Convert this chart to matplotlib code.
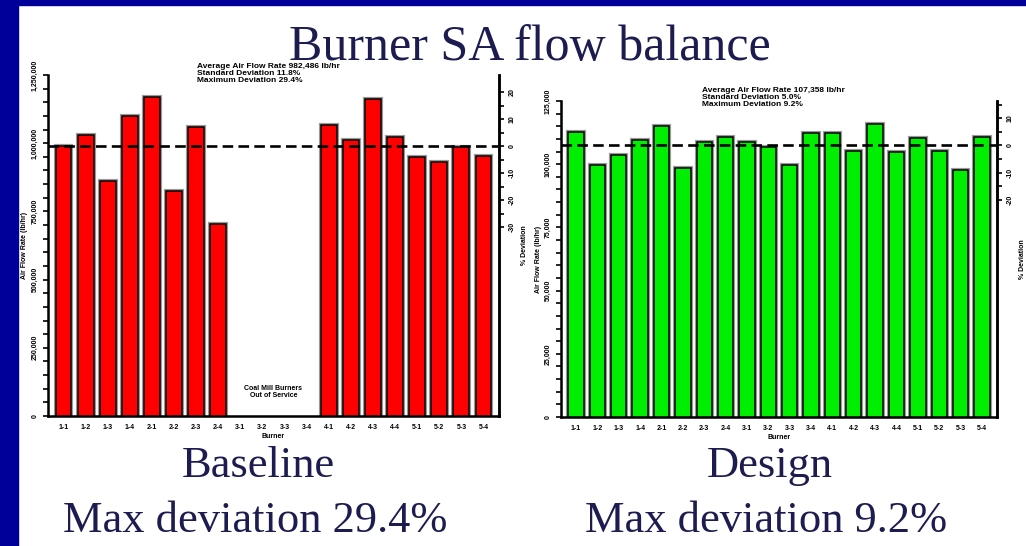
import numpy as np
import matplotlib
matplotlib.use('Agg')
import matplotlib.pyplot as plt
from matplotlib.patches import Rectangle
from matplotlib.ticker import MultipleLocator, FixedLocator, FuncFormatter
import matplotlib.transforms as mtransforms

# burner names, same for both charts
burners = ['1-1', '1-2', '1-3', '1-4', '2-1', '2-2', '2-3', '2-4',
           '3-1', '3-2', '3-3', '3-4', '4-1', '4-2', '4-3', '4-4',
           '5-1', '5-2', '5-3', '5-4']

# air flow per burner (lb/hr), None = out of service
baseline_flow = [989700, 1030000, 861000, 1100000, 1169000, 825000, 1059000, 704000,
                 None, None, None, None,
                 1067000, 1012000, 1162000, 1023000, 949000, 931000, 986000, 953000]
design_flow = [112700, 99700, 103600, 109600, 115100, 98500, 108800, 110800,
               108800, 106800, 99700, 112300, 112300, 105200, 115900, 104800,
               110400, 105200, 97700, 110800]

baseline_notes = ['Average Air Flow Rate 982,486 lb/hr',
                  'Standard Deviation 11.8%',
                  'Maximum Deviation 29.4%']
design_notes = ['Average Air Flow Rate 107,358 lb/hr',
                'Standard Deviation 5.0%',
                'Maximum Deviation 9.2%']

TXT = '#1c1c50'
SMALL = dict(fontsize=5, fontweight='bold', family='Liberation Sans')
NOTE = dict(fontsize=6, fontweight='bold', family='Liberation Sans')

fig = plt.figure(figsize=(10.26, 5.46), dpi=100)
fig.patch.set_facecolor('white')

# blue slide frame
fig.patches.append(Rectangle((0, 0), 18 / 1026, 1, transform=fig.transFigure,
                             color='#000099', zorder=0))
fig.patches.append(Rectangle((0, 1 - 5 / 546), 1, 5 / 546, transform=fig.transFigure,
                             color='#000099', zorder=0))


def draw_chart(rect, flows, color, ymax, ystep, pct_major, pct_minor, notes, note_xy):
    ax = fig.add_axes(rect)
    x = np.arange(len(burners))
    vals = [v for v in flows if v is not None]
    mean = np.mean(vals)
    xs = [i for i, v in zip(x, flows) if v is not None]
    # gray halo then black outline
    ax.bar(xs, vals, width=0.72, color=color, edgecolor='#9a9a9a', linewidth=3, zorder=2)
    ax.bar(xs, vals, width=0.72, color=color, edgecolor='black', linewidth=1.1, zorder=3)
    ax.axhline(mean, color='black', lw=1.9, ls=(0, (4, 2)), zorder=4)

    ax.set_xlim(-0.7, len(burners) - 0.3)
    ax.set_ylim(0, ymax)
    ax.set_xticks(x)
    ax.set_xticklabels(burners, **SMALL)
    ax.tick_params(axis='x', length=0, pad=6)
    ax.yaxis.set_major_locator(MultipleLocator(ystep))
    ax.yaxis.set_minor_locator(MultipleLocator(ystep / 5))
    ax.yaxis.set_major_formatter(FuncFormatter(lambda v, p: f'{int(v):,}'))
    ax.tick_params(axis='y', which='both', direction='out', length=3.5, width=1.2)
    for lab in ax.get_yticklabels():
        lab.set_rotation(90)
        lab.set_va('center')
        lab.set_fontsize(5)
        lab.set_fontweight('bold')
        lab.set_family('Liberation Sans')
    ax.set_xlabel('Burner', labelpad=1, **SMALL)
    ax.set_ylabel('Air Flow Rate (lb/hr)', labelpad=2, **SMALL)
    ax.spines['top'].set_visible(False)
    for s in ['left', 'bottom', 'right']:
        ax.spines[s].set_linewidth(1.8)

    # % deviation axis
    ax2 = ax.twinx()
    ax2.set_ylim((0 / mean - 1) * 100, (ymax / mean - 1) * 100)
    ax2.yaxis.set_major_locator(FixedLocator(pct_major))
    ax2.yaxis.set_minor_locator(FixedLocator(pct_minor))
    ax2.yaxis.set_major_formatter(FuncFormatter(lambda v, p: f'{int(v)}'))
    ax2.tick_params(axis='y', which='both', direction='out', length=3.5, width=1.2)
    for lab in ax2.get_yticklabels():
        lab.set_rotation(90)
        lab.set_va('center')
        lab.set_fontsize(5)
        lab.set_fontweight('bold')
        lab.set_family('Liberation Sans')
    ax2.set_ylabel('% Deviation', labelpad=4, **SMALL)
    ax2.spines['top'].set_visible(False)
    ax2.spines['right'].set_linewidth(1.8)

    fig.text(note_xy[0], note_xy[1], '\n'.join(notes), va='top', ha='left',
             linespacing=1.05, **NOTE)
    return ax


W, H = 1026, 546
axl = draw_chart([48 / W, 1 - 416 / H, 451 / W, 341 / H], baseline_flow, '#ff0000',
                 1250000, 250000, [-30, -20, -10, 0, 10, 20],
                 [-25, -15, -5, 5, 15], baseline_notes, (197 / W, 1 - 63 / H))
trans = mtransforms.blended_transform_factory(axl.transData, axl.transAxes)
axl.text(9.5, 0.07, 'Coal Mill Burners\nOut of Service', transform=trans,
         ha='center', va='center', linespacing=1.1, **SMALL)

draw_chart([561 / W, 1 - 417 / H, 436 / W, 316 / H], design_flow, '#00ee00',
           125000, 25000, [-20, -10, 0, 10],
           [-15, -5, 5, 15], design_notes, (702 / W, 1 - 87 / H))

# slide text
fig.text(530 / W, 1 - 60 / H, 'Burner SA flow balance', ha='center', va='baseline',
         fontsize=36, family='Liberation Serif', color=TXT)
fig.text(258 / W, 1 - 477 / H, 'Baseline', ha='center', va='baseline',
         fontsize=32, family='Liberation Serif', color=TXT)
fig.text(255 / W, 1 - 532 / H, 'Max deviation 29.4%', ha='center', va='baseline',
         fontsize=32, family='Liberation Serif', color=TXT)
fig.text(770 / W, 1 - 477 / H, 'Design', ha='center', va='baseline',
         fontsize=32, family='Liberation Serif', color=TXT)
fig.text(766 / W, 1 - 532 / H, 'Max deviation 9.2%', ha='center', va='baseline',
         fontsize=32, family='Liberation Serif', color=TXT)

fig.savefig('out.png', dpi=100)
